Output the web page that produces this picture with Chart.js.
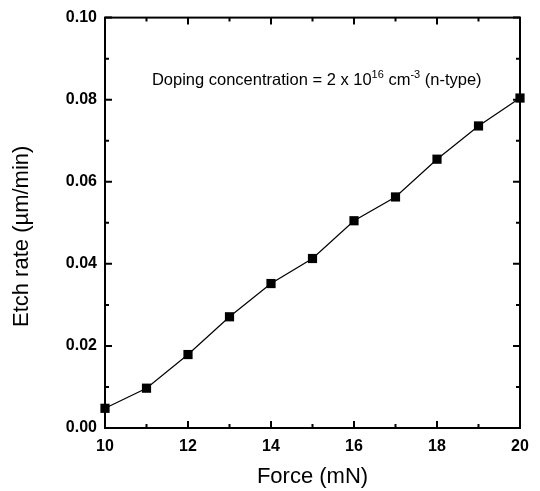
<!DOCTYPE html>
<html>
<head>
<meta charset="utf-8">
<script src="https://cdn.jsdelivr.net/npm/chart.js@4.4.1/dist/chart.umd.min.js"></script>
<style>
  html, body { margin: 0; padding: 0; background: #fff; }
  #wrap { width: 540px; height: 491px; }
</style>
</head>
<body>
<div id="wrap"><canvas id="chart"></canvas></div>
<script>
// Force (mN) vs etch rate
const forces = [10, 11, 12, 13, 14, 15, 16, 17, 18, 19, 20];
const etchRates = [0.0048, 0.0097, 0.0179, 0.0271, 0.0352, 0.0413, 0.0505, 0.0563, 0.0655, 0.0736, 0.0804];
const xMajorTicks = [10, 12, 14, 16, 18, 20];
const xMinorTicks = [11, 13, 15, 17, 19];
const yMajorTicks = [0, 0.02, 0.04, 0.06, 0.08, 0.10];
const yMinorTicks = [0.01, 0.03, 0.05, 0.07, 0.09];

const FONT = "Arial, 'Liberation Sans', sans-serif";

// inward ticks on all four sides + frame
const frameTicks = {
    id: "frameTicks",
    afterDatasetsDraw(chart) {
        const ctx = chart.ctx;
        const a = chart.chartArea;
        const sx = chart.scales.x, sy = chart.scales.y;
        ctx.save();
        ctx.strokeStyle = "#000";
        ctx.lineWidth = 2;
        ctx.strokeRect(a.left, a.top, a.right - a.left, a.bottom - a.top);
        function xTick(v, len) {
            const px = sx.getPixelForValue(v);
            ctx.beginPath();
            ctx.moveTo(px, a.bottom); ctx.lineTo(px, a.bottom - len);
            ctx.moveTo(px, a.top); ctx.lineTo(px, a.top + len);
            ctx.stroke();
        }
        function yTick(v, len) {
            const py = sy.getPixelForValue(v);
            ctx.beginPath();
            ctx.moveTo(a.left, py); ctx.lineTo(a.left + len, py);
            ctx.moveTo(a.right, py); ctx.lineTo(a.right - len, py);
            ctx.stroke();
        }
        xMajorTicks.forEach(v => xTick(v, 7));
        xMinorTicks.forEach(v => xTick(v, 4));
        yMajorTicks.forEach(v => yTick(v, 7));
        yMinorTicks.forEach(v => yTick(v, 4));
        ctx.restore();
    }
};

// annotation + y axis title (title sits a bit below the axis centre in the original)
const noteLabel = {
    id: "noteLabel",
    afterDraw(chart) {
        const ctx = chart.ctx;
        let x = chart.scales.x.getPixelForValue(11.13);
        const y = chart.scales.y.getPixelForValue(0.0836);
        const parts = [
            ["Doping concentration = 2 x 10", false],
            ["16", true],
            [" cm", false],
            ["-3", true],
            [" (n-type)", false]
        ];
        ctx.save();
        ctx.fillStyle = "#000";
        ctx.textBaseline = "alphabetic";
        parts.forEach(([t, sup]) => {
            ctx.font = (sup ? "11px " : "16.5px ") + FONT;
            ctx.fillText(t, x, sup ? y - 7 : y);
            x += ctx.measureText(t).width;
        });

        ctx.translate(22, chart.scales.y.getPixelForValue(0.0467));
        ctx.rotate(-Math.PI / 2);
        ctx.font = "22px " + FONT;
        ctx.textAlign = "center";
        ctx.textBaseline = "middle";
        ctx.fillText("Etch rate (\u00b5m/min)", 0, 0);
        ctx.restore();
    }
};

new Chart(document.getElementById("chart"), {
    type: "line",
    data: {
        datasets: [{
            data: forces.map((f, i) => ({ x: f, y: etchRates[i] })),
            borderColor: "#000",
            borderWidth: 1.2,
            backgroundColor: "#000",
            pointStyle: "rect",
            pointRadius: 6.5,
            pointBorderWidth: 0,
            pointBackgroundColor: "#000",
            tension: 0,
            clip: false
        }]
    },
    options: {
        responsive: true,
        maintainAspectRatio: false,
        animation: false,
        layout: { padding: { left: 0, right: 20, top: 15, bottom: 0 } },
        plugins: { legend: { display: false }, tooltip: { enabled: false } },
        scales: {
            x: {
                type: "linear",
                min: 10,
                max: 20,
                afterFit: s => { s.height = 63; },
                afterBuildTicks: s => { s.ticks = xMajorTicks.map(v => ({ value: v })); },
                ticks: {
                    color: "#000",
                    padding: 9,
                    font: { family: FONT, size: 16, weight: "bold" },
                    maxRotation: 0
                },
                grid: { drawOnChartArea: false, drawTicks: false },
                border: { display: false },
                title: {
                    display: true,
                    text: "Force (mN)",
                    color: "#000",
                    font: { family: FONT, size: 22 },
                    padding: { top: 0, bottom: 1 }
                }
            },
            y: {
                min: 0,
                max: 0.10,
                afterFit: s => { s.width = 105; },
                afterBuildTicks: s => { s.ticks = yMajorTicks.map(v => ({ value: v })); },
                ticks: {
                    color: "#000",
                    padding: 8,
                    font: { family: FONT, size: 16, weight: "bold" },
                    callback: v => v.toFixed(2)
                },
                grid: { drawOnChartArea: false, drawTicks: false },
                border: { display: false },
                title: { display: false }
            }
        }
    },
    plugins: [frameTicks, noteLabel]
});
</script>
</body>
</html>
